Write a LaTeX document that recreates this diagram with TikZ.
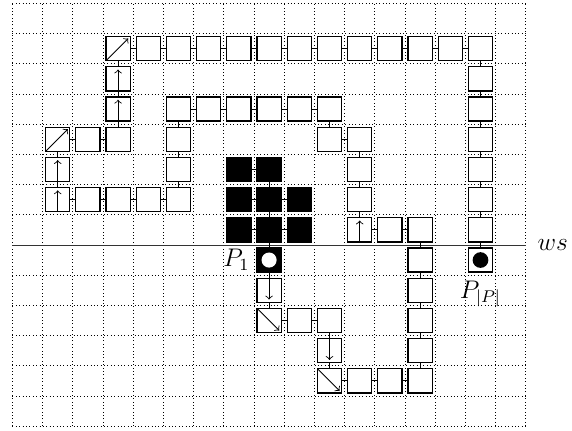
\documentclass[tikz,border=0pt]{standalone}
\usepackage{amsmath,amssymb}
\usepackage{tikz}
\usetikzlibrary{calc,positioning}
\tikzset{
 walk grid/.style={thin,step=5mm,dash pattern=on .4pt off 1.2pt},
 walk wall/.style={thin,black!80},
 walk cell/.style={rectangle,draw=black,semithick,fill=white,minimum size=4mm,
                   inner sep=0pt,outer sep=0pt},
 walk core/.style={walk cell,fill=black},
 walk link/.style={thin},
 walk arrow/.style={->,thin,shorten >=1.3pt},
 walk dot/.style={circle,inner sep=0pt,outer sep=0pt,minimum size=2.6mm},
 walk label/.style={font=\large}
}
\newcommand\walkpath{8/4,8/3,9/3,10/3,10/2,10/1,11/1,12/1,13/1,13/2,13/3,13/4,
 13/5,13/6,12/6,11/6,11/7,11/8,11/9,10/9,10/10,9/10,8/10,7/10,6/10,5/10,5/9,
 5/8,5/7,4/7,3/7,2/7,1/7,1/8,1/9,2/9,3/9,3/10,3/11,3/12,4/12,5/12,6/12,7/12,
 8/12,9/12,10/12,11/12,12/12,13/12,14/12,15/12,15/11,15/10,15/9,15/8,15/7,
 15/6,15/5}

\begin{document}
\begin{tikzpicture}[x=5mm,y=5mm]
 \useasboundingbox (-0.41,-0.13) rectangle (18.53,14.11);
 \draw[walk grid] (0,0) grid (17,14);
 \coordinate (wstart) at (0,6);
 \coordinate (wend) at (17,6);
 \draw[walk wall] (wstart)--(wend);
 \node[walk label,right=2pt of wend] (ws) {$ws$};

 % core of the walk
 \foreach \c/\r in {7/8,8/8,7/7,8/7,9/7,7/6,8/6,9/6,8/5}
  \node[walk core] (c\c-\r) at (\c+.5,\r+.5) {};
 \foreach \a/\b in {7-8/8-8,8-8/8-7,7-7/8-7,8-7/9-7,8-7/8-6,7-6/8-6,8-6/9-6,8-6/8-5}
  \draw[walk link] (c\a)--(c\b);

 % the walk itself
 \foreach \c/\r in \walkpath
  \node[walk cell] (c\c-\r) at (\c+.5,\r+.5) {};
 \foreach \c/\r [remember=\c as \pc (initially 8),remember=\r as \pr (initially 5)] in \walkpath
  \draw[walk link] (c\pc-\pr)--(c\c-\r);

 % moves
 \foreach \c/\r in {3/11,3/10,1/8,1/7,11/6}
  \draw[walk arrow] (c\c-\r.south)--(c\c-\r.north);
 \foreach \c/\r in {8/4,10/2}
  \draw[walk arrow] (c\c-\r.north)--(c\c-\r.south);
 \foreach \c/\r in {3/12,1/9}
  \draw[walk arrow] (c\c-\r.south west)--(c\c-\r.north east);
 \foreach \c/\r in {8/3,10/1}
  \draw[walk arrow] (c\c-\r.north west)--(c\c-\r.south east);

 % ends
 \node[walk dot,fill=white,minimum size=2.5mm] (first) at (c8-5) {};
 \node[walk dot,fill=black] (last) at (c15-5) {};
 \node[walk label,left=0pt of c8-5] (p1) {$P_1$};
 \node[walk label,below=0.6pt of c15-5] (pn) {$P_{|P|}$};
\end{tikzpicture}
\end{document}
